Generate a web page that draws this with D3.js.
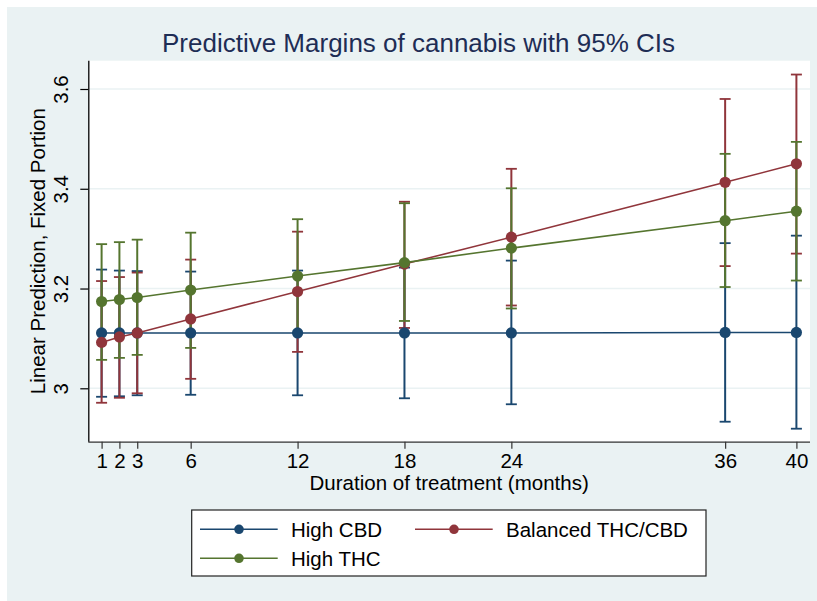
<!DOCTYPE html>
<html><head><meta charset="utf-8">
<script src="https://cdn.jsdelivr.net/npm/d3@7"></script>
<style>body{margin:0;background:#fff}svg{display:block;font-family:"Liberation Sans",Arial,sans-serif}</style>
</head><body>
<svg id="c" width="817" height="601"></svg>
<script>
// ---- data ----
const months = [1, 2, 3, 6, 12, 18, 24, 36, 40];
const yTicks = [3, 3.2, 3.4, 3.6];
const seriesNames = ["High CBD", "Balanced THC/CBD", "High THC"];
const cbd   = [3.111, 3.111, 3.111, 3.111, 3.111, 3.111, 3.111, 3.112, 3.112];
const cbdLo = [2.983, 2.984, 2.986, 2.987, 2.986, 2.980, 2.968, 2.933, 2.919];
const cbdHi = [3.238, 3.236, 3.235, 3.234, 3.236, 3.242, 3.256, 3.291, 3.306];
const bal   = [3.092, 3.103, 3.111, 3.139, 3.194, 3.249, 3.303, 3.413, 3.450];
const balLo = [2.971, 2.981, 2.990, 3.019, 3.073, 3.121, 3.166, 3.245, 3.270];
const balHi = [3.215, 3.223, 3.232, 3.258, 3.314, 3.374, 3.440, 3.580, 3.629];
const thc   = [3.174, 3.178, 3.182, 3.197, 3.225, 3.252, 3.281, 3.336, 3.355];
const thcLo = [3.057, 3.061, 3.067, 3.081, 3.111, 3.135, 3.160, 3.203, 3.216];
const thcHi = [3.289, 3.293, 3.298, 3.312, 3.339, 3.371, 3.401, 3.470, 3.494];
const colors = ["#1a476f", "#90353b", "#55752f"];

const series = [
  {name: seriesNames[0], v: cbd, lo: cbdLo, hi: cbdHi, c: colors[0]},
  {name: seriesNames[1], v: bal, lo: balLo, hi: balHi, c: colors[1]},
  {name: seriesNames[2], v: thc, lo: thcLo, hi: thcHi, c: colors[2]}
];

// ---- layout ----
const svg = d3.select("#c");
const FONT = 20.5;
const P = {l: 88.3, r: 810, t: 60.7, b: 441.7};
const x = d3.scaleLinear().domain([1, 40]).range([101.6, 796.4]);
const y = d3.scaleLinear().domain([3, 3.6]).range([388.3, 89.0]);

svg.append("rect").attr("width", 817).attr("height", 601).attr("fill", "#fff");
svg.append("rect").attr("x", 7).attr("y", 7).attr("width", 810).attr("height", 594).attr("fill", "#eaf2f3");
svg.append("rect").attr("x", P.l).attr("y", P.t).attr("width", P.r - P.l).attr("height", P.b - P.t).attr("fill", "#fff");

// gridlines
svg.append("g").selectAll("line").data(yTicks).join("line")
  .attr("x1", P.l).attr("x2", P.r).attr("y1", d => y(d)).attr("y2", d => y(d))
  .attr("stroke", "#eaf2f3").attr("stroke-width", 1.5);

// title
svg.append("text").attr("x", 418.5).attr("y", 52).attr("text-anchor", "middle")
  .attr("font-size", 26).attr("fill", "#1e2d55").text("Predictive Margins of cannabis with 95% CIs");

// axes
const gx = svg.append("g").attr("transform", `translate(0,${P.b})`)
  .call(d3.axisBottom(x).tickValues(months).tickSize(7).tickPadding(5).tickFormat(d3.format("d")));
gx.select(".domain").attr("d", `M${P.l},0.5H${P.r}`).attr("stroke", "#333").attr("stroke-width", 1.3);
gx.selectAll(".tick line").attr("stroke", "#333").attr("stroke-width", 1.2);
gx.selectAll(".tick text").attr("font-size", FONT).attr("font-family", "Liberation Sans, Arial, sans-serif").attr("fill", "#000");

const gy = svg.append("g").attr("transform", `translate(${P.l},0)`)
  .call(d3.axisLeft(y).tickValues(yTicks).tickSize(8).tickFormat(d => d === 3 ? "3" : d.toFixed(1)));
gy.select(".domain").attr("d", `M0.5,${P.t}V${P.b}`).attr("stroke", "#000").attr("stroke-width", 1.3);
gy.selectAll(".tick line").attr("stroke", "#000").attr("stroke-width", 1.2);
gy.selectAll(".tick text").attr("font-size", FONT).attr("font-family", "Liberation Sans, Arial, sans-serif").attr("fill", "#000")
  .attr("transform", "rotate(-90)").attr("x", 0).attr("y", -20).attr("dy", 0).attr("text-anchor", "middle");

// axis titles
svg.append("text").attr("transform", `translate(45,${(P.t + P.b) / 2}) rotate(-90)`).attr("text-anchor", "middle")
  .attr("font-size", FONT).attr("fill", "#000").text("Linear Prediction, Fixed Portion");
svg.append("text").attr("x", (P.l + P.r) / 2).attr("y", 490).attr("text-anchor", "middle")
  .attr("font-size", FONT).attr("fill", "#000").text("Duration of treatment (months)");

// CIs
const capW = 5.5;
series.forEach(s => {
  const g = svg.append("g").attr("stroke", s.c).attr("fill", "none");
  months.forEach((m, i) => {
    g.append("line").attr("x1", x(m)).attr("x2", x(m)).attr("y1", y(s.lo[i])).attr("y2", y(s.hi[i])).attr("stroke-width", 2);
    g.append("line").attr("x1", x(m) - capW).attr("x2", x(m) + capW).attr("y1", y(s.lo[i])).attr("y2", y(s.lo[i])).attr("stroke-width", 1.8);
    g.append("line").attr("x1", x(m) - capW).attr("x2", x(m) + capW).attr("y1", y(s.hi[i])).attr("y2", y(s.hi[i])).attr("stroke-width", 1.8);
  });
});

// lines + markers
const line = d3.line().x(d => x(d[0])).y(d => y(d[1]));
series.forEach(s => {
  const pts = months.map((m, i) => [m, s.v[i]]);
  svg.append("path").attr("d", line(pts)).attr("fill", "none").attr("stroke", s.c).attr("stroke-width", 1.6);
  svg.append("g").selectAll("circle").data(pts).join("circle")
    .attr("cx", d => x(d[0])).attr("cy", d => y(d[1])).attr("r", 5.6).attr("fill", s.c);
});

// legend
const L = {x: 191.7, y: 510, w: 514.3, h: 66};
svg.append("rect").attr("x", L.x).attr("y", L.y).attr("width", L.w).attr("height", L.h)
  .attr("fill", "#fff").attr("stroke", "#222").attr("stroke-width", 1.2);
const legPos = [{x0: 200, y: 529.3}, {x0: 415, y: 529.3}, {x0: 200, y: 558.3}];
series.forEach((s, i) => {
  const p = legPos[i];
  svg.append("line").attr("x1", p.x0).attr("x2", p.x0 + 77.7).attr("y1", p.y).attr("y2", p.y)
    .attr("stroke", s.c).attr("stroke-width", 1.6);
  svg.append("circle").attr("cx", p.x0 + 39).attr("cy", p.y).attr("r", 4.8).attr("fill", s.c);
  svg.append("text").attr("x", p.x0 + 91).attr("y", p.y + 7.4).attr("font-size", FONT).attr("fill", "#000").text(s.name);
});
</script>
</body></html>
